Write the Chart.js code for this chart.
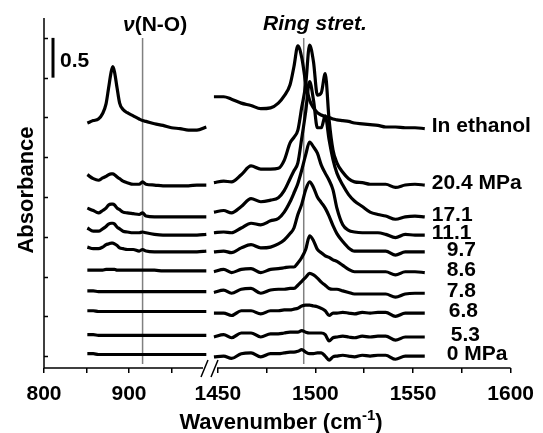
<!DOCTYPE html>
<html>
<head>
<meta charset="utf-8">
<script src="https://cdn.jsdelivr.net/npm/chart.js@4.4.0/dist/chart.umd.min.js"></script>
<style>
  html, body { margin: 0; padding: 0; background: #fff; }
  #wrap { position: relative; width: 543px; height: 433px; }
  #wrap canvas { position: absolute; left: 0; top: 0; }
</style>
</head>
<body>
<div id="wrap">
  <canvas id="left" width="543" height="433"></canvas>
  <canvas id="right" width="543" height="433"></canvas>
</div>
<script>
// wavenumbers (cm-1) of the two panels of the broken axis
const wnLeft = [851, 858, 864, 869, 873, 876, 879, 881, 883, 886, 889, 893, 898, 905, 912, 916, 920, 930, 940, 950, 960, 970, 980, 991];
const wnRight = [1448, 1453, 1457, 1462, 1467, 1472, 1477, 1481, 1484, 1487, 1489, 1491, 1493, 1495, 1497, 1499, 1501, 1503, 1505, 1507, 1509, 1511, 1514, 1517, 1520, 1524, 1528, 1532, 1536, 1541, 1546, 1551, 1556];

// spectra from top to bottom, stacked with these offsets
const seriesNames = ['In ethanol', '20.4 MPa', '17.1', '11.1', '9.7', '8.6', '7.8', '6.8', '5.3', '0 MPa'];
const offsets = [2.87, 2.15, 1.75, 1.52, 1.31, 1.06, 0.79, 0.54, 0.24, 0];

// absorbance above each offset, left panel (v(N-O) region)
const ethanolL = [0.06, 0.09, 0.11, 0.18, 0.30, 0.50, 0.70, 0.77, 0.70, 0.50, 0.31, 0.23, 0.19, 0.15, 0.11, 0.09, 0.08, 0.05, 0.03, 0, -0.01, -0.03, -0.03, 0.01];
const p204L = [0.13, 0.08, 0.06, 0.09, 0.11, 0.13, 0.14, 0.14, 0.13, 0.10, 0.08, 0.05, 0.03, 0.01, 0.01, 0.04, 0.01, 0, -0.01, -0.01, -0.01, -0.01, 0, 0];
const p171L = [0.11, 0.08, 0.05, 0.08, 0.11, 0.15, 0.16, 0.16, 0.15, 0.11, 0.09, 0.06, 0.05, 0.04, 0.03, 0.05, 0.01, 0, 0, 0, 0, 0, 0, 0];
const p111L = [0.09, 0.05, 0.05, 0.08, 0.11, 0.14, 0.15, 0.15, 0.14, 0.10, 0.08, 0.05, 0.04, 0.03, 0.03, 0.04, 0.03, 0.01, 0, 0, 0, 0, 0, 0.01];
const p97L = [0.06, 0.04, 0.04, 0.06, 0.09, 0.10, 0.11, 0.11, 0.10, 0.08, 0.05, 0.04, 0.03, 0.03, 0.01, 0.03, 0.01, 0, 0, 0, 0, 0, 0, 0.01];
const p86L = [0.02, 0.02, 0.02, 0.02, 0.03, 0.03, 0.03, 0.03, 0.03, 0.02, 0.02, 0.02, 0.02, 0.02, 0.02, 0.02, 0.02, 0.02, 0.01, 0.01, 0.01, 0.01, 0.01, 0.01];
const p78L = [0.03, 0.03, 0.02, 0.02, 0.02, 0.02, 0.02, 0.02, 0.02, 0.02, 0.02, 0.02, 0.02, 0.02, 0.02, 0.02, 0.02, 0.02, 0.02, 0.02, 0.02, 0.02, 0.02, 0.02];
const p68L = [0.03, 0.03, 0.02, 0.02, 0.02, 0.02, 0.02, 0.02, 0.02, 0.02, 0.02, 0.02, 0.02, 0.02, 0.02, 0.02, 0.02, 0.02, 0.02, 0.02, 0.02, 0.02, 0.02, 0.02];
const p53L = [0.03, 0.03, 0.02, 0.02, 0.02, 0.02, 0.02, 0.02, 0.02, 0.02, 0.02, 0.02, 0.02, 0.02, 0.02, 0.02, 0.02, 0.02, 0.02, 0.02, 0.02, 0.02, 0.02, 0.02];
const p0L = [0.03, 0.03, 0.02, 0.02, 0.02, 0.02, 0.02, 0.02, 0.02, 0.02, 0.02, 0.02, 0.02, 0.02, 0.02, 0.02, 0.02, 0.02, 0.02, 0.02, 0.02, 0.02, 0.02, 0.02];

// absorbance above each offset, right panel (ring stretching region)
const ethanolR = [0.39, 0.39, 0.36, 0.31, 0.28, 0.24, 0.25, 0.31, 0.40, 0.54, 0.77, 1.03, 0.88, 0.57, 0.35, 0.25, 0.19, 0.16, 0.14, 0.13, 0.11, 0.10, 0.09, 0.08, 0.06, 0.05, 0.04, 0.03, 0.01, 0.01, 0, 0, -0.01];
const p204R = [0.03, 0.05, 0.04, 0.13, 0.24, 0.20, 0.20, 0.21, 0.31, 0.53, 0.60, 0.69, 0.98, 1.26, 1.76, 1.55, 1.13, 1.16, 1.40, 0.82, 0.44, 0.28, 0.16, 0.08, 0.04, 0.03, 0.01, 0.01, 0.01, -0.03, 0, 0.01, 0];
const p171R = [0.06, 0.08, 0.05, 0.13, 0.23, 0.19, 0.21, 0.24, 0.33, 0.48, 0.58, 0.68, 0.99, 1.32, 1.70, 1.47, 1.12, 1.12, 1.27, 0.97, 0.72, 0.55, 0.40, 0.28, 0.20, 0.13, 0.06, 0.03, 0.01, -0.03, 0, 0.01, 0];
const p111R = [0.03, 0.04, 0.03, 0.09, 0.15, 0.13, 0.18, 0.21, 0.29, 0.42, 0.53, 0.65, 0.82, 1.01, 1.17, 1.11, 1.03, 0.88, 0.78, 0.69, 0.57, 0.34, 0.13, 0.06, 0.04, 0.03, 0.03, 0.03, 0.01, -0.03, 0.01, 0, 0];
const p97R = [0, 0.01, -0.01, 0.05, 0.09, 0.05, 0.06, 0.10, 0.15, 0.23, 0.30, 0.47, 0.60, 0.78, 0.88, 0.81, 0.69, 0.62, 0.55, 0.45, 0.33, 0.23, 0.13, 0.05, 0.01, 0.01, 0.01, 0.01, 0.01, -0.04, 0, 0, 0];
const p86R = [0, 0.03, -0.01, 0.03, 0.04, -0.01, 0.03, 0.04, 0.05, 0.06, 0.06, 0.11, 0.18, 0.28, 0.45, 0.39, 0.28, 0.24, 0.20, 0.18, 0.15, 0.13, 0.08, 0.03, 0, 0, 0, 0, 0, -0.04, 0, 0, -0.01];
const p78R = [0.01, 0.04, 0, 0.05, 0.06, 0, 0.04, 0.05, 0.05, 0.06, 0.06, 0.10, 0.15, 0.20, 0.25, 0.23, 0.19, 0.14, 0.10, 0.06, 0.05, 0.05, 0.03, 0.01, -0.01, -0.01, -0.01, -0.01, -0.01, -0.05, -0.01, 0, 0];
const p68R = [0, 0, -0.03, 0.03, 0.03, -0.01, 0.03, 0.03, 0.04, 0.04, 0.05, 0.06, 0.09, 0.10, 0.10, 0.09, 0.08, 0.06, 0.03, -0.03, 0, 0, 0.01, 0, -0.01, 0.01, 0, 0.01, 0.01, -0.04, 0, 0, 0];
const p53R = [0, 0.03, -0.01, 0.05, 0.05, 0, 0.04, 0.04, 0.05, 0.06, 0.06, 0.06, 0.08, 0.06, 0.05, 0.05, 0.05, 0.05, 0.03, -0.05, -0.01, 0, 0.01, 0, -0.01, 0.01, 0, 0.01, 0.01, -0.04, 0, 0, 0];
const p0R = [-0.01, 0, -0.03, 0.03, 0.04, -0.01, 0.03, 0.03, 0.04, 0.05, 0.05, 0.06, 0.08, 0.05, 0.03, 0.03, 0.04, 0.04, 0, -0.05, -0.01, 0, 0.01, 0, -0.01, 0.01, 0, 0.01, 0.01, -0.04, 0, 0, 0];

const leftValues = [ethanolL, p204L, p171L, p111L, p97L, p86L, p78L, p68L, p53L, p0L];
const rightValues = [ethanolR, p204R, p171R, p111R, p97R, p86R, p78R, p68R, p53R, p0R];

// marker lines (cm-1) and scale bar (absorbance)
const refLines = [916, 1494];
const scaleBarFrom = 3.5;
const scaleBarSize = 0.5;

const FONT = '"Liberation Sans", Arial, sans-serif';
Chart.defaults.font.family = FONT;
Chart.defaults.color = '#000';

// small indent of the shorter labels, as in the figure
const labelIndent = [0, 0, 0, 0, 15, 15, 15, 17, 19, 15];

function makeDatasets(wn, values) {
    return seriesNames.map(function (name, i) {
        return {
            label: name,
            data: wn.map(function (w, k) { return { x: w, y: offsets[i] + values[i][k] }; }),
            borderColor: '#000',
            borderWidth: 3.2,
            pointRadius: 0,
            fill: false,
            cubicInterpolationMode: 'monotone',
        };
    });
}

function xScale(min, max, step, labelEvery) {
    return {
        type: 'linear',
        position: 'bottom',
        min: min,
        max: max,
        afterFit: function (s) { s.height = 65; },
        border: { display: false },
        grid: { drawOnChartArea: false, drawTicks: true, tickLength: 5, color: '#000', lineWidth: 1.5 },
        ticks: {
            stepSize: step,
            includeBounds: false,
            autoSkip: false,
            maxRotation: 0,
            padding: 9,
            font: { size: 21, weight: 'bold' },
            color: '#000',
            callback: function (v) { return v % labelEvery === 0 ? String(v) : ''; },
        },
    };
}

const yScale = {
    type: 'linear',
    display: false,
    min: -0.15,
    max: 4.25,
    ticks: { stepSize: 0.5, includeBounds: false },
};

function vLine(ctx, x, y, value) {
    const px = x.getPixelForValue(value);
    ctx.save();
    ctx.strokeStyle = '#808080';
    ctx.lineWidth = 1.5;
    ctx.beginPath();
    ctx.moveTo(px, y.getPixelForValue(4.0));
    ctx.lineTo(px, y.getPixelForValue(-0.1));
    ctx.stroke();
    ctx.restore();
}

const leftDecor = {
    id: 'leftDecor',
    beforeDatasetsDraw(chart) {
        vLine(chart.ctx, chart.scales.x, chart.scales.y, refLines[0]);
    },
    afterDraw(chart) {
        const ctx = chart.ctx;
        const a = chart.chartArea;
        const y = chart.scales.y;
        ctx.save();
        ctx.strokeStyle = '#000';
        ctx.lineWidth = 1.5;
        // y axis with inward ticks
        ctx.beginPath();
        ctx.moveTo(a.left, a.top);
        ctx.lineTo(a.left, a.bottom);
        y.ticks.forEach(function (t) {
            const py = Math.round(y.getPixelForValue(t.value)) + 0.5;
            ctx.moveTo(a.left, py);
            ctx.lineTo(a.left + 4, py);
        });
        // x axis up to the break
        ctx.moveTo(a.left, a.bottom);
        ctx.lineTo(a.right - 4, a.bottom);
        // break marks
        ctx.moveTo(a.right - 6, a.bottom + 9);
        ctx.lineTo(a.right + 1, a.bottom - 8);
        ctx.moveTo(a.right + 4, a.bottom + 9);
        ctx.lineTo(a.right + 11, a.bottom - 8);
        ctx.stroke();

        // scale bar
        ctx.lineWidth = 3;
        ctx.beginPath();
        ctx.moveTo(53, y.getPixelForValue(scaleBarFrom));
        ctx.lineTo(53, y.getPixelForValue(scaleBarFrom + scaleBarSize));
        ctx.stroke();

        ctx.fillStyle = '#000';
        ctx.textBaseline = 'alphabetic';
        ctx.textAlign = 'left';
        ctx.font = 'bold 21px ' + FONT;
        ctx.fillText(String(scaleBarSize), 60, 67);

        // v(N-O)
        ctx.font = 'italic bold 21px ' + FONT;
        ctx.fillText('ν', 123, 31);
        const nuW = ctx.measureText('ν').width;
        ctx.font = 'bold 21px ' + FONT;
        ctx.fillText('(N-O)', 123 + nuW, 31);

        // y title
        ctx.save();
        ctx.translate(33, 190);
        ctx.rotate(-Math.PI / 2);
        ctx.textAlign = 'center';
        ctx.font = 'bold 22px ' + FONT;
        ctx.fillText('Absorbance', 0, 0);
        ctx.restore();

        // x title with superscript
        const main = 'Wavenumber (cm', sup = '-1', tail = ')';
        ctx.font = 'bold 22px ' + FONT;
        const wMain = ctx.measureText(main).width;
        const wTail = ctx.measureText(tail).width;
        ctx.font = 'bold 15px ' + FONT;
        const wSup = ctx.measureText(sup).width;
        let x0 = 281 - (wMain + wSup + wTail) / 2;
        ctx.font = 'bold 22px ' + FONT;
        ctx.fillText(main, x0, 429);
        ctx.font = 'bold 15px ' + FONT;
        ctx.fillText(sup, x0 + wMain, 420);
        ctx.font = 'bold 22px ' + FONT;
        ctx.fillText(tail, x0 + wMain + wSup, 429);
        ctx.restore();
    },
};

const rightDecor = {
    id: 'rightDecor',
    beforeDatasetsDraw(chart) {
        vLine(chart.ctx, chart.scales.x, chart.scales.y, refLines[1]);
    },
    afterDraw(chart) {
        const ctx = chart.ctx;
        const a = chart.chartArea;
        const x = chart.scales.x;
        const y = chart.scales.y;
        ctx.save();
        ctx.strokeStyle = '#000';
        ctx.lineWidth = 1.5;
        ctx.beginPath();
        ctx.moveTo(a.left + 6, a.bottom);
        ctx.lineTo(a.right, a.bottom);
        ctx.stroke();

        ctx.fillStyle = '#000';
        ctx.textAlign = 'left';
        ctx.font = 'italic bold 21px ' + FONT;
        ctx.fillText('Ring stret.', 263, 30);

        // series labels at the end of each spectrum
        ctx.font = 'bold 21px ' + FONT;
        ctx.textBaseline = 'middle';
        const last = wnRight.length - 1;
        const xEnd = x.getPixelForValue(wnRight[last]);
        seriesNames.forEach(function (name, i) {
            const py = y.getPixelForValue(offsets[i] + rightValues[i][last]);
            ctx.fillText(name, xEnd + 7 + labelIndent[i], py - 2);
        });
        ctx.restore();
    },
};

function makeChart(id, wn, values, xs, pad, decor) {
    return new Chart(document.getElementById(id), {
        type: 'line',
        data: { datasets: makeDatasets(wn, values) },
        options: {
            responsive: false,
            animation: false,
            devicePixelRatio: 1,
            layout: { padding: pad },
            plugins: { legend: { display: false }, tooltip: { enabled: false } },
            scales: { x: xs, y: yScale },
        },
        plugins: [decor],
    });
}

makeChart('left', wnLeft, leftValues, xScale(800, 991.8, 50, 100),
    { left: 44, right: 336, top: 18, bottom: 0 }, leftDecor);
makeChart('right', wnRight, rightValues, xScale(1446.5, 1600, 25, 50),
    { left: 211, right: 24, top: 18, bottom: 0 }, rightDecor);
</script>
</body>
</html>
